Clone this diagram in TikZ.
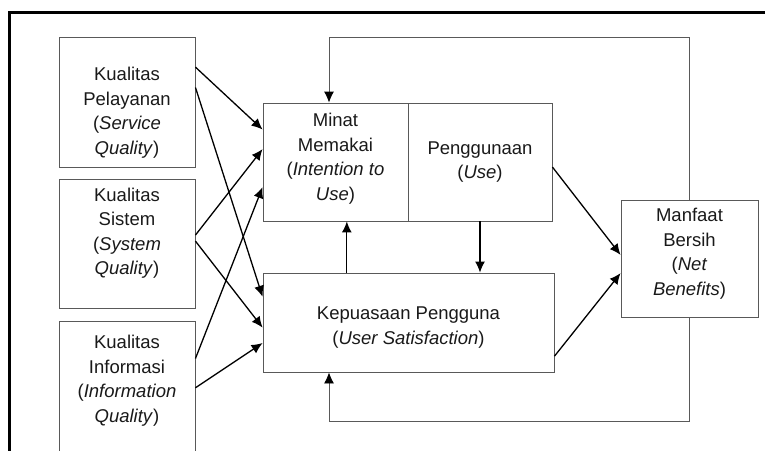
\documentclass[tikz,border=0pt]{standalone}
\usepackage{fontspec}
\setmainfont{Liberation Sans}
\usetikzlibrary{arrows.meta}

\tikzset{
  box/.style={draw=black!65, line width=0.9pt, rectangle, align=center, inner sep=0pt,
    text=black!90, font=\fontsize{18.5}{24.5}\selectfont},
  arr/.style={black, line width=1.3pt, -{Latex[length=11pt,width=10pt]}},
  backline/.style={draw=black!65, line width=0.9pt, -{Latex[length=11pt,width=10pt,color=black]}}
}

\begin{document}
\begin{tikzpicture}[x=1pt,y=-1pt]
\useasboundingbox (0,0) rectangle (765,450);
% frame of the page
\draw[line width=3pt] (9,470) -- (9,12) -- (780,12);

% the three qualities
\node[box, minimum width=136pt, minimum height=130pt] (svc) at (127,102)
  {\rule{0pt}{35pt}Kualitas\\Pelayanan\\(\textit{Service}\\\textit{Quality})};
\node[box, minimum width=136pt, minimum height=129pt] (sys) at (127,243.5)
  {Kualitas\\Sistem\\(\textit{System}\\\textit{Quality})\rule[-24pt]{0pt}{24pt}};
\node[box, minimum width=136pt, minimum height=136pt] (inf) at (127,389)
  {Kualitas\\Informasi\\(\textit{Information}\\\textit{Quality})\rule[-20pt]{0pt}{20pt}};

% use and satisfaction
\node[box, minimum width=145pt, minimum height=118pt] (int) at (335.5,162)
  {Minat\\Memakai\\(\textit{Intention to}\\\textit{Use})\rule[-10pt]{0pt}{10pt}};
\node[box, minimum width=144pt, minimum height=118pt] (use) at (480,162)
  {Penggunaan\\(\textit{Use})};
\node[box, minimum width=291pt, minimum height=99pt] (sat) at (408.5,322.5)
  {\rule{0pt}{23pt}Kepuasaan Pengguna\\(\textit{User Satisfaction})};

% net benefits
\node[box, minimum width=137pt, minimum height=117pt] (net) at (689.5,258.5)
  {Manfaat\\Bersih\\(\textit{Net}\\\textit{Benefits})\rule[-13pt]{0pt}{13pt}};

% arrows in
\draw[arr] (svc.27.2) -- (int.156.2);
\draw[arr] (svc.12.4) -- (sat.170.1);
\draw[arr] (sys.7.1) -- (int.170.6);
\draw[arr] (sys.2.9) -- (sat.182.2);
\draw[arr] (inf.24.5) -- (int.199.7);
\draw[arr] (inf.1.7) -- (sat.188);
\draw[arr] (sat.141.2) -- (sat.141.2 |- int.south);
\draw[arr] (use.south) -- (use.south |- sat.north);
\draw[arr] (use.-4.8) -- (net.177.1);
\draw[arr] (sat.-13.3) -- (net.192);

% feedback loops
\coordinate (fbtop) at (329,37);
\coordinate (fbbot) at (329,421);
\draw[backline] (net.north) |- (fbtop) -- (fbtop |- int.north);
\draw[backline] (net.south) |- (fbbot) -- (fbbot |- sat.south);
\end{tikzpicture}
\end{document}
